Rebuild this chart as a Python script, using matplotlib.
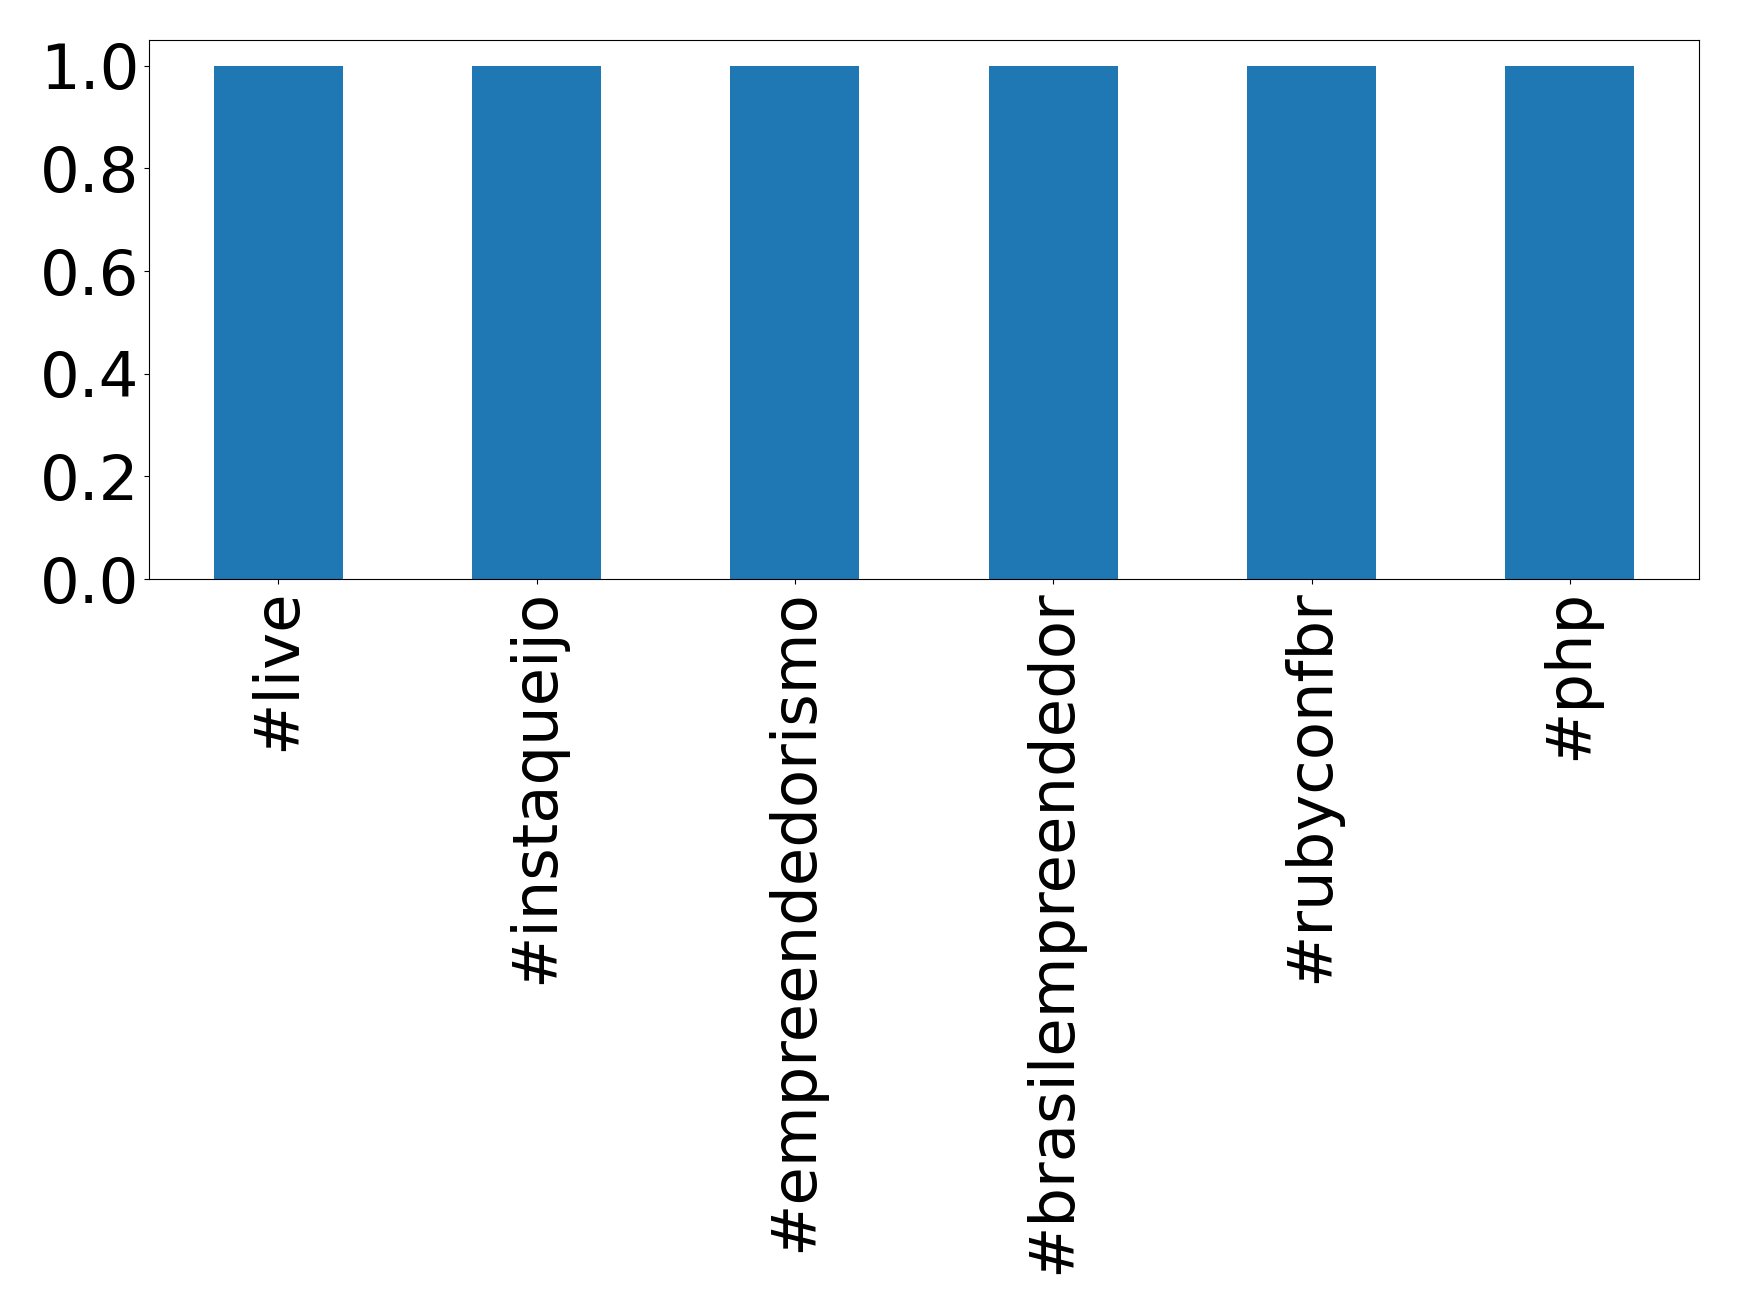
import pandas as pd
import matplotlib.pyplot as plt

hashtags = ['#live', '#instaqueijo', '#empreendedorismo', '#brasilempreendedor', '#rubyconfbr', '#php']
counts = [1, 1, 1, 1, 1, 1]

s = pd.Series(counts, index=hashtags)

fig = plt.figure(figsize=(17.39, 13.13), dpi=100)
ax = fig.add_axes([0.0857, 0.559, 0.8913, 0.4105])
s.plot(kind='bar', ax=ax, color='#1f77b4', fontsize=45)
ax.tick_params(axis='x', labelrotation=90)

fig.savefig('out.png', dpi=100)
